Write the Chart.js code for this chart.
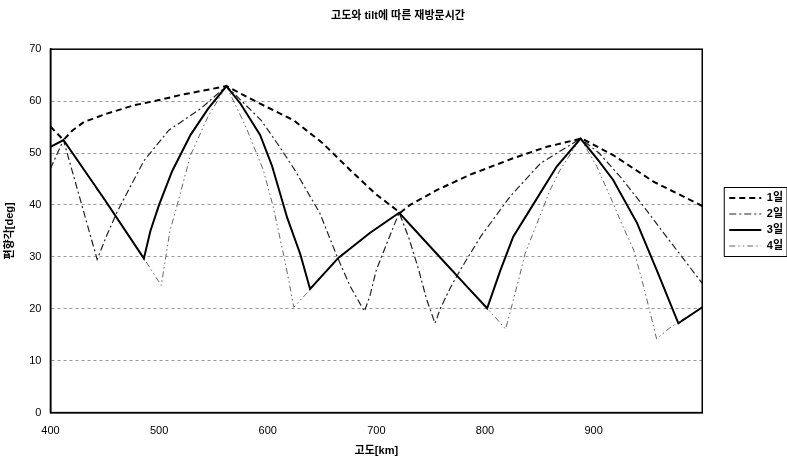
<!DOCTYPE html>
<html lang="ko">
<head>
    <meta charset="UTF-8">
    <title>고도와 tilt에 따른 재방문시간</title>
    <script src="https://cdn.jsdelivr.net/npm/chart.js"></script>
    <style>
        body {
            margin: 0;
            background-color: #fff;
        }
        #box {
            width: 787px;
            height: 460px;
        }
    </style>
</head>
<body>
    <div id="box"><canvas id="revisitChart"></canvas></div>

    <script>
        // values: altitude [km] -> tilt [deg]
        const day1Alt = [400, 412, 420, 431, 452, 477, 498, 520, 540, 562, 593, 624, 650, 676, 700, 722, 731, 756, 786, 826, 857, 889, 918, 955, 1000];
        const day1Val = [55.1, 52.5, 54.3, 56.0, 57.6, 59.2, 60.1, 61.2, 62.0, 62.9, 59.5, 56.3, 52.0, 46.7, 42.0, 38.5, 40.0, 42.9, 45.8, 49.0, 51.2, 52.8, 49.6, 44.5, 39.8];

        const day2Alt = [400, 412, 443, 452, 461, 486, 509, 538, 562, 594, 611, 625, 648, 664, 676, 689, 694, 700, 711, 721, 730, 739, 746, 754, 759, 768, 776, 782, 796, 823, 851, 888, 905, 925, 945, 967, 1000];
        const day2Val = [47.0, 52.5, 29.5, 34.2, 38.5, 48.5, 54.4, 58.5, 62.9, 56.3, 51.2, 46.7, 38.4, 30.0, 24.3, 19.5, 22.4, 27.5, 33.3, 38.5, 33.6, 27.5, 22.0, 17.2, 20.1, 24.0, 27.0, 29.1, 33.9, 41.6, 48.0, 52.8, 50.0, 45.3, 40.0, 33.9, 24.9];

        const day3Alt = [400, 412, 450, 486, 492, 500, 512, 529, 545, 562, 575, 593, 604, 618, 630, 639, 665, 694, 721, 756, 786, 802, 814, 826, 845, 866, 888, 904, 918, 940, 958, 978, 1000];
        const day3Val = [51.2, 52.5, 41.0, 29.7, 35.0, 40.0, 46.5, 53.5, 58.5, 62.9, 59.5, 53.5, 47.5, 37.5, 30.5, 23.8, 29.8, 34.6, 38.5, 30.5, 23.7, 20.1, 27.3, 33.9, 40.3, 47.4, 52.8, 48.7, 44.8, 36.5, 27.5, 17.2, 20.3];

        const day4Alt = [400, 412, 486, 502, 510, 515, 520, 529, 545, 562, 580, 596, 605, 615, 619, 624, 636, 650, 665, 694, 721, 802, 819, 823, 831, 837, 848, 860, 869, 888, 903, 918, 927, 937, 946, 958, 970, 978, 1000];
        const day4Val = [51.2, 52.5, 29.7, 24.5, 35.0, 38.7, 42.6, 49.6, 57.0, 62.9, 55.0, 46.7, 39.7, 30.0, 25.9, 20.3, 23.0, 26.3, 29.8, 34.6, 38.5, 20.1, 16.1, 19.2, 25.6, 30.7, 36.5, 42.9, 46.7, 52.8, 47.4, 40.3, 35.8, 31.3, 24.3, 14.2, 16.3, 17.4, 20.3];

        const seriesNames = ['1일', '2일', '3일', '4일'];

        function toPoints(alt, val) {
            return alt.map((a, i) => ({ x: a, y: val[i] }));
        }

        // frame round the plot and box round the legend, like the Excel original
        const framePlugin = {
            id: 'frame',
            afterLayout(chart) {
                // legend sits a little above centre in the original
                chart.legend.top -= 7;
                chart.legend.bottom -= 7;
            },
            afterDraw(chart) {
                const ctx = chart.ctx;
                const a = chart.chartArea;
                ctx.save();
                ctx.strokeStyle = '#000';
                ctx.lineWidth = 1.5;
                ctx.strokeRect(a.left, a.top, a.right - a.left, a.bottom - a.top);

                const boxes = chart.legend.legendHitBoxes;
                if (boxes && boxes.length) {
                    const x0 = Math.min(...boxes.map(b => b.left)) - 5;
                    const y0 = Math.min(...boxes.map(b => b.top)) - 5;
                    const x1 = Math.max(...boxes.map(b => b.left + b.width)) + 4;
                    const y1 = Math.max(...boxes.map(b => b.top + b.height)) + 5;
                    ctx.lineWidth = 1;
                    ctx.strokeRect(x0, y0, x1 - x0, y1 - y0);
                }
                ctx.restore();
            }
        };

        Chart.defaults.font.family = "'Liberation Sans', 'Noto Sans CJK KR', sans-serif";
        Chart.defaults.color = '#000';

        const baseLabels = Chart.defaults.plugins.legend.labels.generateLabels;

        const ctx = document.getElementById('revisitChart').getContext('2d');
        new Chart(ctx, {
            type: 'line',
            data: {
                datasets: [
                    {
                        label: seriesNames[0],
                        data: toPoints(day1Alt, day1Val),
                        borderColor: '#000',
                        borderWidth: 2,
                        borderDash: [6, 4],
                        order: 1
                    },
                    {
                        label: seriesNames[1],
                        data: toPoints(day2Alt, day2Val),
                        borderColor: '#222',
                        borderWidth: 1.2,
                        borderDash: [7, 3, 2, 3],
                        order: 2
                    },
                    {
                        label: seriesNames[2],
                        data: toPoints(day3Alt, day3Val),
                        borderColor: '#000',
                        borderWidth: 2,
                        order: 0
                    },
                    {
                        label: seriesNames[3],
                        data: toPoints(day4Alt, day4Val),
                        borderColor: '#666',
                        borderWidth: 1,
                        borderDash: [6, 3, 1.5, 3, 1.5, 3],
                        order: 3
                    }
                ]
            },
            options: {
                responsive: true,
                maintainAspectRatio: false,
                animation: false,
                elements: {
                    point: { radius: 0 },
                    line: { tension: 0, fill: false }
                },
                layout: { padding: { top: 0, right: -6, bottom: 2, left: 3 } },
                plugins: {
                    title: {
                        display: true,
                        text: '고도와 tilt에 따른 재방문시간',
                        font: { size: 11, weight: 'bold' },
                        padding: { top: 9, bottom: 27 }
                    },
                    legend: {
                        position: 'right',
                        labels: {
                            usePointStyle: true,
                            pointStyle: 'line',
                            pointStyleWidth: 32,
                            padding: 5,
                            font: { size: 11, weight: 'bold' },
                            sort: (a, b) => a.datasetIndex - b.datasetIndex,
                            generateLabels: chart => baseLabels(chart).map(item => {
                                const ds = chart.data.datasets[item.datasetIndex];
                                item.lineDash = ds.borderDash || [];
                                item.strokeStyle = ds.borderColor;
                                item.lineWidth = ds.borderWidth;
                                return item;
                            })
                        }
                    },
                    tooltip: { enabled: false }
                },
                scales: {
                    x: {
                        type: 'linear',
                        min: 400,
                        max: 1000,
                        ticks: {
                            stepSize: 100,
                            padding: 12,
                            font: { size: 11 },
                            callback: v => (v === 1000 ? '' : v)
                        },
                        grid: { display: false, drawTicks: false },
                        border: { display: true, color: '#000', width: 1.5 },
                        title: {
                            display: true,
                            text: '고도[km]',
                            font: { size: 11, weight: 'bold' },
                            padding: { top: -5, bottom: 0 }
                        }
                    },
                    y: {
                        min: 0,
                        max: 70,
                        ticks: {
                            stepSize: 10,
                            padding: 9,
                            font: { size: 11 }
                        },
                        grid: {
                            color: '#999',
                            drawTicks: false
                        },
                        border: { display: true, color: '#000', width: 1.5, dash: [3, 3] },
                        title: {
                            display: true,
                            text: '편향각[deg]',
                            font: { size: 11, weight: 'bold' },
                            padding: { top: 0, bottom: 4 }
                        }
                    },
                    // empty right-hand axis: keeps the gap between plot and legend
                    gap: {
                        type: 'linear',
                        position: 'right',
                        min: 0,
                        max: 70,
                        ticks: { display: false },
                        grid: { display: false, drawTicks: false },
                        border: { display: false },
                        afterFit: scale => { scale.width = 22; }
                    }
                }
            },
            plugins: [framePlugin]
        });
    </script>
</body>
</html>
